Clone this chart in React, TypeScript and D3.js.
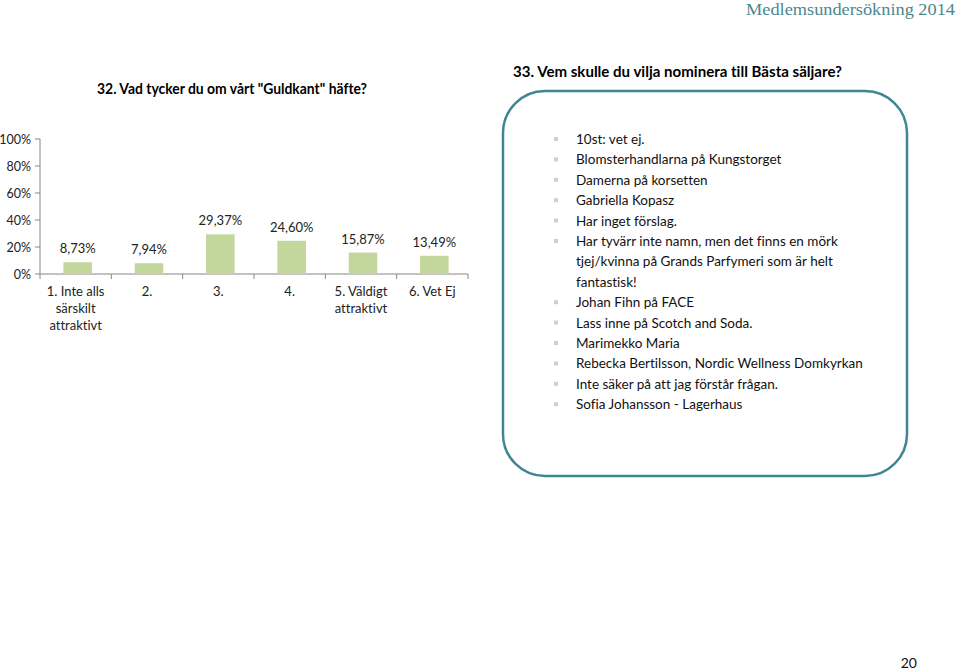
import React, { useEffect, useRef } from 'react';
import * as d3 from 'd3';

const categories = ['1. Inte alls|särskilt|attraktivt', '2.', '3.', '4.', '5. Väldigt|attraktivt', '6. Vet Ej'];
const values = [8.73, 7.94, 29.37, 24.6, 15.87, 13.49];
const yTicks = [0, 20, 40, 60, 80, 100];

const answers = [
  '10st: vet ej.',
  'Blomsterhandlarna på Kungstorget',
  'Damerna på korsetten',
  'Gabriella Kopasz',
  'Har inget förslag.',
  'Har tyvärr inte namn, men det finns en mörk|tjej/kvinna på Grands Parfymeri som är helt|fantastisk!',
  'Johan Fihn på FACE',
  'Lass inne på Scotch and Soda.',
  'Marimekko Maria',
  'Rebecka Bertilsson, Nordic Wellness Domkyrkan',
  'Inte säker på att jag förstår frågan.',
  'Sofia Johansson - Lagerhaus'
];

const font = 'Lato, "Open Sans", sans-serif';

export default function App() {
  const ref = useRef<SVGSVGElement>(null);

  useEffect(() => {
    const svg = d3.select(ref.current);
    svg.selectAll('*').remove();

    // header + page number
    svg.append('text')
      .attr('x', 955).attr('y', 15)
      .attr('text-anchor', 'end')
      .attr('font-family', '"Liberation Serif", serif')
      .attr('font-size', 17)
      .attr('fill', '#4a8891')
      .attr('textLength', 209)
      .attr('lengthAdjust', 'spacingAndGlyphs')
      .text('Medlemsundersökning 2014');

    svg.append('text')
      .attr('x', 917).attr('y', 668)
      .attr('text-anchor', 'end')
      .attr('font-family', font)
      .attr('font-size', 14)
      .attr('fill', '#111')
      .text('20');

    // titles
    svg.append('text')
      .attr('x', 97).attr('y', 94)
      .attr('font-family', font)
      .attr('font-weight', 'bold')
      .attr('font-size', 14.5)
      .attr('textLength', 270)
      .attr('lengthAdjust', 'spacingAndGlyphs')
      .text('32. Vad tycker du om vårt "Guldkant" häfte?');

    svg.append('text')
      .attr('x', 513).attr('y', 77)
      .attr('font-family', font)
      .attr('font-weight', 'bold')
      .attr('font-size', 14.5)
      .attr('textLength', 329)
      .attr('lengthAdjust', 'spacingAndGlyphs')
      .text('33. Vem skulle du vilja nominera till Bästa säljare?');

    // bar chart
    const x = d3.scaleBand<number>()
      .domain(d3.range(categories.length))
      .range([40, 468]);

    const y = d3.scaleLinear().domain([0, 100]).range([274, 139]);

    const g = svg.append('g');

    g.append('line')
      .attr('x1', 40).attr('x2', 40)
      .attr('y1', y(0)).attr('y2', y(100))
      .attr('stroke', '#868686');

    yTicks.forEach(t => {
      g.append('line')
        .attr('x1', 35).attr('x2', 40)
        .attr('y1', y(t)).attr('y2', y(t))
        .attr('stroke', '#868686');
      g.append('text')
        .attr('x', 31).attr('y', y(t) + 4.5)
        .attr('text-anchor', 'end')
        .attr('font-family', font)
        .attr('font-size', 12.5)
        .attr('fill', '#222')
        .text(t + '%');
    });

    g.append('line')
      .attr('x1', 40).attr('x2', 468)
      .attr('y1', y(0)).attr('y2', y(0))
      .attr('stroke', '#868686');

    d3.range(categories.length + 1).forEach(i => {
      const px = 40 + i * x.step();
      g.append('line')
        .attr('x1', px).attr('x2', px)
        .attr('y1', y(0)).attr('y2', y(0) + 5)
        .attr('stroke', '#868686');
    });

    const bw = x.bandwidth() * 0.4;

    values.forEach((v, i) => {
      const cx = x(i)! + x.bandwidth() / 2 + 2;
      g.append('rect')
        .attr('x', cx - bw / 2)
        .attr('y', y(v))
        .attr('width', bw)
        .attr('height', y(0) - y(v))
        .attr('fill', '#c3d69b');
      g.append('text')
        .attr('x', cx)
        .attr('y', y(v) - 9)
        .attr('text-anchor', 'middle')
        .attr('font-family', font)
        .attr('font-size', 13)
        .attr('fill', '#222')
        .text(v.toFixed(2).replace('.', ',') + '%');

      const lab = g.append('text')
        .attr('text-anchor', 'middle')
        .attr('font-family', font)
        .attr('font-size', 13)
        .attr('fill', '#222');
      categories[i].split('|').forEach((s, k) => {
        lab.append('tspan')
          .attr('x', x(i)! + x.bandwidth() / 2)
          .attr('y', 296 + k * 17)
          .text(s);
      });
    });

    // rounded box with list
    svg.append('rect')
      .attr('x', 503).attr('y', 91)
      .attr('width', 404).attr('height', 385)
      .attr('rx', 42).attr('ry', 42)
      .attr('fill', 'white')
      .attr('stroke', '#3f8690')
      .attr('stroke-width', 2.5);

    const list = svg.append('g');
    let row = 0;
    answers.forEach(a => {
      const by = 139 + row * 20.4;
      list.append('rect')
        .attr('x', 554).attr('y', by - 2)
        .attr('width', 4).attr('height', 4)
        .attr('fill', '#cfcfcf');
      a.split('|').forEach(s => {
        list.append('text')
          .attr('x', 576)
          .attr('y', 139 + row * 20.4 + 5)
          .attr('font-family', font)
          .attr('font-size', 13.5)
          .attr('fill', '#111')
          .text(s);
        row++;
      });
    });
  }, []);

  return (
    <svg
      ref={ref}
      width={960}
      height={671}
      style={{ display: 'block', position: 'absolute', left: 0, top: 0, fontVariantLigatures: 'none' }}
    />
  );
}
